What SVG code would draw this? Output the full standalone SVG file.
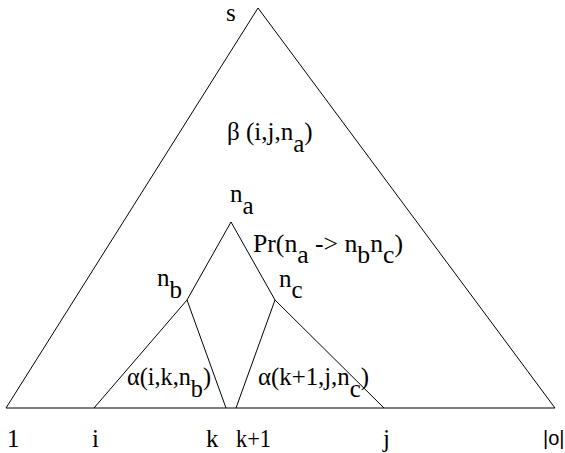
<svg xmlns="http://www.w3.org/2000/svg" width="565" height="453" viewBox="0 0 565 453">
<defs>
<style>
.ln{stroke:#000;stroke-width:1;fill:none}
.base{stroke:#555;stroke-width:1.6;fill:none}
</style>
</defs>
<rect width="565" height="453" fill="#fff"/>
<g id="connectors">
<line class="base" x1="6" y1="408" x2="555" y2="408"/>
<polyline class="ln" points="6,408 258,8 555,408"/>
<polyline class="ln" points="187,300 231,222 275,300"/>
<polyline class="ln" points="94,408 187,300 226,408"/>
<polyline class="ln" points="236,408 275,300 384,408"/>
</g>
<g font-family="Liberation Serif, Times New Roman, serif" font-size="25" fill="#000">
<g id="node-s"><text x="226" y="21">s</text></g>
<g id="label-beta"><text x="227" y="140">β (i,j,n<tspan dy="12">a</tspan><tspan dy="-12">)</tspan></text></g>
<g id="node-na"><text x="230" y="202">n<tspan dy="12">a</tspan></text></g>
<g id="label-pr"><text x="253" y="252" textLength="150" lengthAdjust="spacingAndGlyphs">Pr(n<tspan dy="11">a</tspan><tspan dy="-11"> -&gt; n</tspan><tspan dy="11">b</tspan><tspan dy="-11">n</tspan><tspan dy="11">c</tspan><tspan dy="-11">)</tspan></text></g>
<g id="node-nb"><text x="157" y="286">n<tspan dy="12">b</tspan></text></g>
<g id="node-nc"><text x="279" y="287">n<tspan dy="11">c</tspan></text></g>
<g id="label-alpha-b"><text x="127" y="385" textLength="84" lengthAdjust="spacingAndGlyphs">α(i,k,n<tspan dy="12">b</tspan><tspan dy="-12">)</tspan></text></g>
<g id="label-alpha-c"><text x="258" y="385" textLength="111" lengthAdjust="spacingAndGlyphs">α(k+1,j,n<tspan dy="12">c</tspan><tspan dy="-12">)</tspan></text></g>
<g id="axis-labels">
<text x="7" y="447">1</text>
<text x="92" y="447">i</text>
<text x="206" y="447">k</text>
<text x="236" y="447" textLength="35" lengthAdjust="spacingAndGlyphs">k+1</text>
<text x="383" y="447">j</text>
<text x="543" y="445" font-family="Liberation Sans, Arial, sans-serif" font-size="20">|o|</text>
</g>
</g>
</svg>
